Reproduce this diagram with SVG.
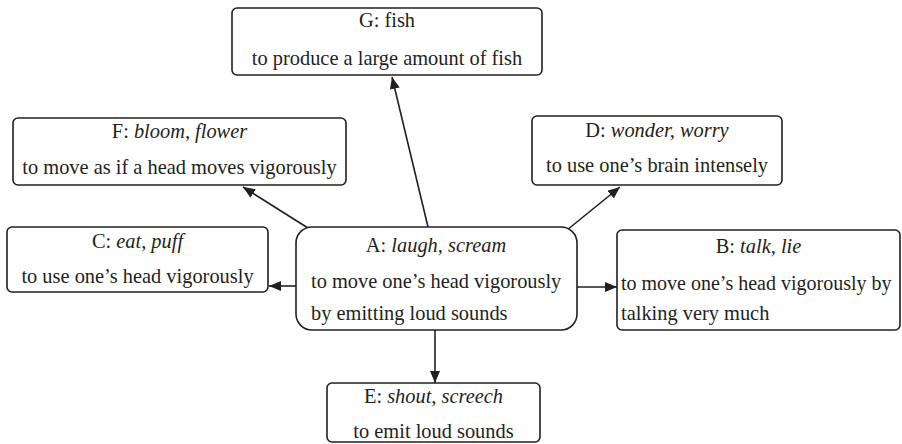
<svg xmlns="http://www.w3.org/2000/svg" width="902" height="444" viewBox="0 0 902 444">
<style>
.box{fill:#fff;stroke:#231f20;stroke-width:1.6}
text{font-family:"Liberation Serif","Times New Roman",serif;font-size:20.4px;fill:#231f20}
.c{text-anchor:middle}
.i{font-style:italic}
.conn{stroke:#231f20;stroke-width:1.6;fill:none;marker-end:url(#arr)}
</style>
<defs>
<marker id="arr" markerUnits="userSpaceOnUse" markerWidth="13" markerHeight="11" refX="12" refY="5" orient="auto">
<path d="M0,0 L12,5 L0,10 z" fill="#231f20"/>
</marker>
</defs>
<rect width="902" height="444" fill="#fff"/>
<g id="connectors">
<line class="conn" x1="428" y1="227" x2="392" y2="77"/>
<line class="conn" x1="308" y1="228" x2="243" y2="187"/>
<line class="conn" x1="567" y1="230" x2="620" y2="187"/>
<line class="conn" x1="296" y1="286" x2="269" y2="286"/>
<line class="conn" x1="577" y1="287" x2="617" y2="287"/>
<line class="conn" x1="435" y1="330" x2="435" y2="383"/>
</g>
<g id="G">
<rect class="box" x="232" y="8" width="310" height="67" rx="5"/>
<text class="c" x="387" y="27">G: fish</text>
<text class="c" x="387" y="65">to produce a large amount of fish</text>
</g>
<g id="F">
<rect class="box" x="13" y="118" width="333" height="67" rx="5"/>
<text class="c" x="179.5" y="138">F: <tspan class="i">bloom, flower</tspan></text>
<text class="c" x="179.5" y="174">to move as if a head moves vigorously</text>
</g>
<g id="D">
<rect class="box" x="532" y="116" width="250" height="69" rx="5"/>
<text class="c" x="657" y="137">D: <tspan class="i">wonder, worry</tspan></text>
<text class="c" x="657" y="172">to use one’s brain intensely</text>
</g>
<g id="C">
<rect class="box" x="7" y="227" width="261" height="65" rx="5"/>
<text class="c" x="137.5" y="248">C: <tspan class="i">eat, puff</tspan></text>
<text class="c" x="137.5" y="283">to use one’s head vigorously</text>
</g>
<g id="A">
<rect class="box" x="296" y="227" width="281" height="103" rx="16"/>
<text class="c" x="436" y="252">A: <tspan class="i">laugh, scream</tspan></text>
<text x="311" y="288">to move one’s head vigorously</text>
<text x="311" y="320">by emitting loud sounds</text>
</g>
<g id="B">
<rect class="box" x="617" y="230" width="283" height="100" rx="5"/>
<text class="c" x="758.5" y="253">B: <tspan class="i">talk, lie</tspan></text>
<text x="621" y="290" style="font-size:20px">to move one’s head vigorously by</text>
<text x="621" y="320">talking very much</text>
</g>
<g id="E">
<rect class="box" x="327" y="383" width="213" height="59" rx="5"/>
<text class="c" x="433.5" y="403">E: <tspan class="i">shout, screech</tspan></text>
<text class="c" x="433.5" y="438">to emit loud sounds</text>
</g>
</svg>
